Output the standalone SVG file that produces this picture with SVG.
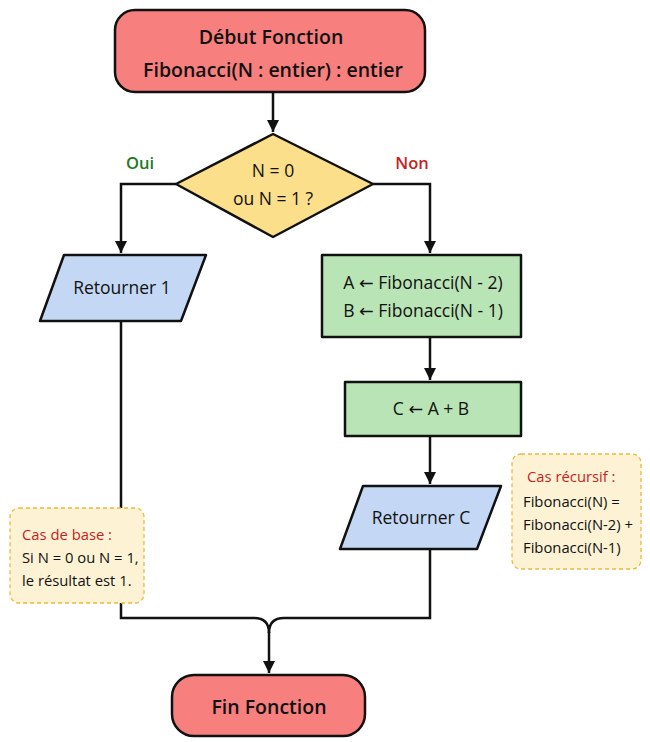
<svg xmlns="http://www.w3.org/2000/svg" width="650" height="742" viewBox="0 0 650 742">
<defs>
<marker id="ah" viewBox="0 0 10 10" refX="10" refY="5" markerWidth="5" markerHeight="5" orient="auto" markerUnits="strokeWidth">
<path d="M0,0 L10,5 L0,10 z" fill="#111"/>
</marker>
<style>
.s{stroke:#111;stroke-width:2.5;stroke-linejoin:round}
.t{font-family:"Open Sans","Noto Sans",sans-serif;fill:#111;text-anchor:middle}
.b{font-weight:600;font-size:19.5px}
.m{font-size:17.5px;font-weight:500}
.ar{font-family:"DejaVu Sans",sans-serif}
.n{font-family:"Open Sans","Noto Sans",sans-serif;font-size:14.8px;fill:#111}
.red{fill:#c81e1e}
.note{fill:#fdf3d4;stroke:#f0b73c;stroke-width:1.3;stroke-dasharray:4 3}
.c{fill:none;stroke:#111;stroke-width:2.5}
</style>
</defs>
<rect width="650" height="742" fill="#fff"/>
<g id="connectors">
<path class="c" d="M273,92 V132" marker-end="url(#ah)"/>
<path class="c" d="M176,184 H121 V253" marker-end="url(#ah)"/>
<path class="c" d="M373,184 H430 V253" marker-end="url(#ah)"/>
<path class="c" d="M430,337 V380" marker-end="url(#ah)"/>
<path class="c" d="M430,436 V484" marker-end="url(#ah)"/>
<path class="c" d="M121,321 V618 H254 Q269,618 269,633"/>
<path class="c" d="M430,549 V618 H284 Q269,618 269,633"/>
<path class="c" d="M269,632 V673" marker-end="url(#ah)"/>
</g>
<g id="start">
<rect class="s" x="115" y="10" width="310" height="82" rx="20" fill="#f7807e"/>
<text class="t b" x="271" y="44">Début Fonction</text>
<text class="t b" x="273" y="77">Fibonacci(N : entier) : entier</text>
</g>
<g id="decision">
<polygon class="s" points="273,134 373,184 273,237 176,184" fill="#fcdf8a"/>
<text class="t m" x="273" y="177">N = 0</text>
<text class="t m" x="273" y="205">ou N = 1 ?</text>
</g>
<text x="140" y="169" font-family="Open Sans, sans-serif" font-size="16.5" font-weight="600" fill="#1f7a1f" text-anchor="middle">Oui</text>
<text x="412" y="169" font-family="Open Sans, sans-serif" font-size="16.5" font-weight="600" fill="#c81e1e" text-anchor="middle">Non</text>
<g id="ret1">
<polygon class="s" points="64,255 206,255 181,321 40,321" fill="#c4d8f5"/>
<text class="t m" x="122" y="294">Retourner 1</text>
</g>
<g id="calc">
<rect class="s" x="322" y="255" width="199" height="82" fill="#b9e4b5"/>
<text class="t m" x="423" y="289">A <tspan class="ar">←</tspan> Fibonacci(N - 2)</text>
<text class="t m" x="423" y="317">B <tspan class="ar">←</tspan> Fibonacci(N - 1)</text>
</g>
<g id="sum">
<rect class="s" x="345" y="382" width="176" height="54" fill="#b9e4b5"/>
<text class="t m" x="431" y="415">C <tspan class="ar">←</tspan> A + B</text>
</g>
<g id="retC">
<polygon class="s" points="363,486 501,486 477,549 340,549" fill="#c4d8f5"/>
<text class="t m" x="421" y="524">Retourner C</text>
</g>
<g id="note-base">
<rect class="note" x="10" y="508" width="134" height="95" rx="9"/>
<text class="n red" x="22" y="540">Cas de base :</text>
<text class="n" x="22" y="563">Si N = 0 ou N = 1,</text>
<text class="n" x="22" y="586">le résultat est 1.</text>
</g>
<g id="note-rec">
<rect class="note" x="512" y="454" width="129" height="115" rx="9"/>
<text class="n red" x="527" y="482">Cas récursif :</text>
<text class="n" x="523" y="507">Fibonacci(N) =</text>
<text class="n" x="523" y="530">Fibonacci(N-2) +</text>
<text class="n" x="523" y="553">Fibonacci(N-1)</text>
</g>
<g id="end">
<rect class="s" x="172" y="675" width="193" height="61" rx="22" fill="#f7807e"/>
<text class="t b" x="269" y="714">Fin Fonction</text>
</g>
</svg>
